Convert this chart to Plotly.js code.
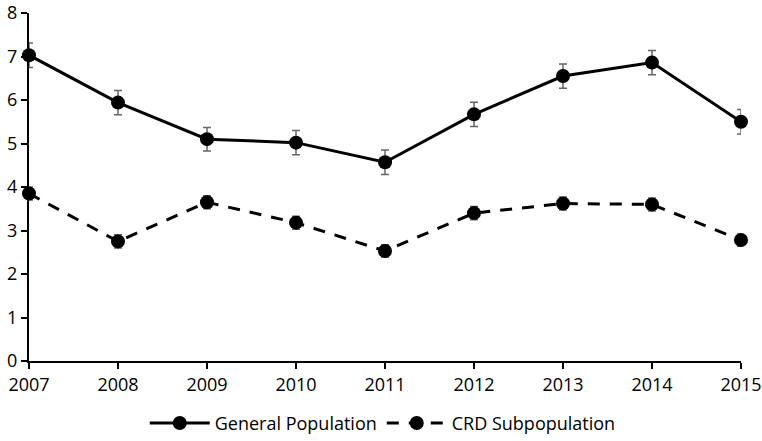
<!DOCTYPE html>
<html><head><meta charset="utf-8">
<script src="https://cdn.plot.ly/plotly-3.0.1.min.js"></script>
<style>body{margin:0;background:#fff}#c{width:762px;height:441px}</style>
</head><body><div id="c"></div>
<script>
const years = [2007, 2008, 2009, 2010, 2011, 2012, 2013, 2014, 2015];
const generalPop = [7.03, 5.94, 5.10, 5.02, 4.57, 5.67, 6.55, 6.86, 5.50];
const generalErr = [0.28, 0.28, 0.27, 0.28, 0.28, 0.28, 0.28, 0.28, 0.28];
const crdSub = [3.85, 2.75, 3.65, 3.18, 2.53, 3.40, 3.62, 3.60, 2.78];
const crdErr = [0.15, 0.15, 0.15, 0.15, 0.14, 0.15, 0.15, 0.15, 0.14];
const yTicks = [0, 1, 2, 3, 4, 5, 6, 7, 8];

const errStyle = {type: 'data', visible: true, color: '#666666', thickness: 1.5, width: 4};
const traces = [
  {x: years, y: generalPop, name: 'General Population', type: 'scatter', mode: 'lines+markers',
   line: {color: '#000', width: 3}, marker: {color: '#000', size: 14},
   error_y: Object.assign({array: generalErr}, errStyle), cliponaxis: false},
  {x: years, y: crdSub, name: 'CRD Subpopulation', type: 'scatter', mode: 'lines+markers',
   line: {color: '#000', width: 3, dash: '12px,10px'}, marker: {color: '#000', size: 14},
   error_y: Object.assign({array: crdErr}, errStyle), cliponaxis: false}
];
const font = {family: 'Open Sans, Noto Sans, sans-serif', size: 18, color: '#000'};
const layout = {
  width: 762, height: 441,
  margin: {l: 29, r: 21, t: 13, b: 80},
  paper_bgcolor: '#fff', plot_bgcolor: '#fff',
  font: font,
  showlegend: true,
  legend: {orientation: 'h', x: 0.501, xanchor: 'center', xref: 'container',
    y: 0.04, yanchor: 'middle', yref: 'container',
    font: font, itemwidth: 60, tracegroupgap: 0, entrywidth: 162},
  xaxis: {range: [2007, 2015], tickvals: years, ticktext: years.map(String),
    showgrid: false, zeroline: false, showline: true, linecolor: '#000', linewidth: 2,
    ticks: 'outside', ticklen: 6, tickwidth: 2, tickcolor: '#000', tickfont: font,
    ticklabeloverflow: 'allow', automargin: false},
  yaxis: {range: [0, 8], tickvals: yTicks, showgrid: false, zeroline: false,
    showline: true, linecolor: '#000', linewidth: 2,
    ticks: 'outside', ticklen: 6, tickwidth: 2, tickcolor: '#000', tickfont: font,
    ticklabeloverflow: 'allow', automargin: false}
};
Plotly.newPlot('c', traces, layout, {displayModeBar: false, staticPlot: true});
</script></body></html>
